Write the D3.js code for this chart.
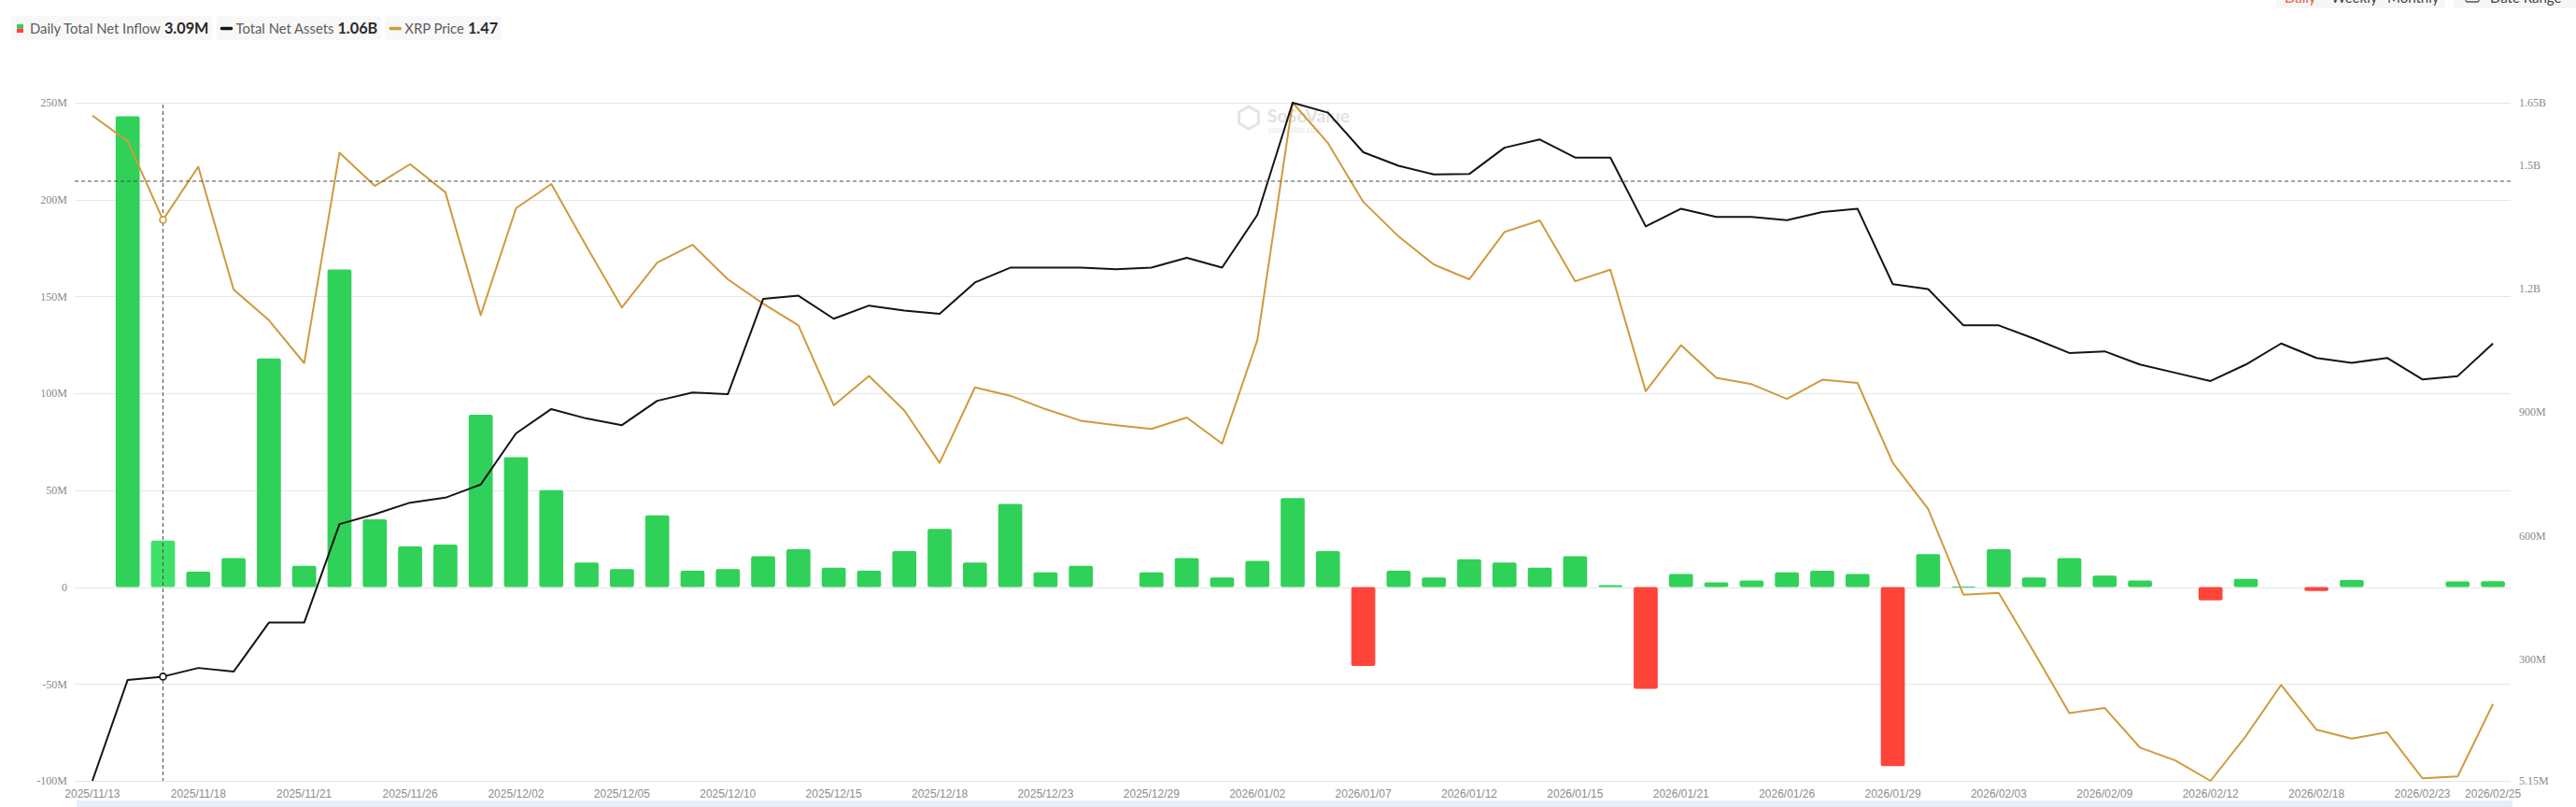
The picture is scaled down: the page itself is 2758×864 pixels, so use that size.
<!DOCTYPE html>
<html>
<head>
<meta charset="utf-8">
<script src="https://cdn.jsdelivr.net/npm/d3@7"></script>
<style>
  html, body { margin: 0; padding: 0; background: #fff; }
  svg { display: block; }
</style>
</head>
<body>
<svg id="chart" width="2758" height="864"></svg>
<script>
// ---------------- DATA ----------------
const dates = ["2025/11/13","2025/11/14","2025/11/17","2025/11/18","2025/11/19","2025/11/20","2025/11/21","2025/11/24","2025/11/25","2025/11/26","2025/11/28",
"2025/12/01","2025/12/02","2025/12/03","2025/12/04","2025/12/05","2025/12/08","2025/12/09","2025/12/10","2025/12/11","2025/12/12","2025/12/15","2025/12/16","2025/12/17","2025/12/18","2025/12/19","2025/12/22","2025/12/23","2025/12/24","2025/12/26","2025/12/29","2025/12/30","2025/12/31",
"2026/01/02","2026/01/05","2026/01/06","2026/01/07","2026/01/08","2026/01/09","2026/01/12","2026/01/13","2026/01/14","2026/01/15","2026/01/16","2026/01/20","2026/01/21","2026/01/22","2026/01/23","2026/01/26","2026/01/27","2026/01/28","2026/01/29","2026/01/30",
"2026/02/02","2026/02/03","2026/02/04","2026/02/05","2026/02/09","2026/02/10","2026/02/11","2026/02/12","2026/02/13","2026/02/17","2026/02/18","2026/02/19","2026/02/20","2026/02/23","2026/02/24","2026/02/25"];

// Daily Total Net Inflow (USD millions)
const netInflow = [null, 243, 24, 8, 15, 118, 11, 164, 35, 21, 22, 89, 67, 50, 12.7, 9.3, 37, 8.5, 9.3, 16, 19.5, 10, 8.5, 18.6, 30, 12.7, 43, 7.6, 11, null,
 7.6, 15, 5, 13.5, 46, 18.6, -40.7, 8.5, 5, 14.4, 12.7, 10, 16, 1, -52.5, 6.8, 2.5, 3.4, 7.6, 8.5, 6.8, -92.4, 17, 0.3, 19.5, 5, 15, 6, 3.4, null,
 -6.8, 4.2, null, -2, 3.7, null, null, 2.9, 3.09];

// Total Net Assets (USD millions)
const netAssets = [5.15, 250, 258, 279, 270, 389, 389, 628, 652, 680, 692, 724, 848, 907, 884, 868, 927, 947, 943, 1174,
 1182, 1126, 1158, 1146, 1138, 1214, 1250, 1250, 1250, 1246, 1250, 1274, 1250, 1378, 1650, 1626, 1530, 1497, 1476, 1477,
 1541, 1561, 1517, 1517, 1350, 1393, 1373, 1373, 1365, 1385, 1393, 1210, 1198, 1110, 1110, 1078, 1043, 1047, 1015, 995,
 975, 1015, 1066, 1031, 1019, 1031, 979, 987, 1066];

// XRP Price (USD)
const xrpPrice = [2.39, 2.35, 2.227, 2.31, 2.118, 2.07, 2.003, 2.332, 2.28, 2.314, 2.27, 2.078, 2.245, 2.283, 2.185, 2.09, 2.16, 2.188, 2.134, 2.096,
 2.062, 1.937, 1.983, 1.929, 1.847, 1.965, 1.952, 1.931, 1.913, 1.906, 1.90, 1.918, 1.877, 2.039, 2.41, 2.347, 2.255, 2.201, 2.157, 2.134,
 2.208, 2.226, 2.131, 2.149, 1.959, 2.031, 1.98, 1.97, 1.947, 1.977, 1.972, 1.847, 1.775, 1.641, 1.644, 1.551, 1.456, 1.464, 1.402, 1.382,
 1.35, 1.42, 1.50, 1.43, 1.416, 1.426, 1.354, 1.357, 1.47];

const xTickLabels = ["2025/11/13","2025/11/18","2025/11/21","2025/11/26","2025/12/02","2025/12/05","2025/12/10","2025/12/15","2025/12/18","2025/12/23","2025/12/29",
"2026/01/02","2026/01/07","2026/01/12","2026/01/15","2026/01/21","2026/01/26","2026/01/29","2026/02/03","2026/02/09","2026/02/12","2026/02/18","2026/02/23","2026/02/25"];

const leftTicks = [-100, -50, 0, 50, 100, 150, 200, 250];
const leftTickLabels = ["-100M", "-50M", "0", "50M", "100M", "150M", "200M", "250M"];
const rightTicks = [5.15, 300, 600, 900, 1200, 1500, 1650];
const rightTickLabels = ["5.15M", "300M", "600M", "900M", "1.2B", "1.5B", "1.65B"];

const legendItems = [
  {name: "Daily Total Net Inflow", value: "3.09M", type: "bar"},
  {name: "Total Net Assets", value: "1.06B", type: "black"},
  {name: "XRP Price", value: "1.47", type: "gold"}
];

const hoverIndex = 2;      // crosshair category
const hoverLevel = 209.5;  // crosshair horizontal level (left axis, M)

// ---------------- STYLE ----------------
const C = {green: "#30d158", greenHover: "#3fe068", red: "#ff453a", black: "#141414", gold: "#d09a3d",
  grid: "#e6e6e6", axisText: "#8a8a8a", xText: "#8c8c8c"};

const svg = d3.select("#chart");
const plot = {left: 80, right: 2688, top: 110, bottom: 836};

const x = d3.scaleBand().domain(dates).range([plot.left, plot.right]).paddingInner(0.32).paddingOuter(0.16);
const bw = x.bandwidth();
const cx = i => x(dates[i]) + bw / 2;
const yL = d3.scaleLinear().domain([d3.min(leftTicks), d3.max(leftTicks)]).range([plot.bottom, plot.top]);
const yR = d3.scaleLinear().domain(d3.extent(netAssets)).range([plot.bottom, plot.top]);
const yP = d3.scaleLinear().domain(d3.extent(xrpPrice)).range([plot.bottom, plot.top]);

// ---------------- GRID ----------------
const grid = svg.append("g").attr("transform", `translate(${plot.left},0)`)
  .call(d3.axisLeft(yL).tickValues(leftTicks).tickSize(-(plot.right - plot.left)).tickFormat(""));
grid.select(".domain").remove();
grid.selectAll("line").attr("stroke", C.grid).attr("stroke-width", 1).attr("shape-rendering", "crispEdges");

// ---------------- AXES ----------------
const axL = svg.append("g").attr("transform", `translate(${plot.left},0)`)
  .call(d3.axisLeft(yL).tickValues(leftTicks).tickSize(0).tickPadding(8)
    .tickFormat((d, i) => leftTickLabels[leftTicks.indexOf(d)]));
axL.select(".domain").remove();
axL.selectAll("text").attr("font-family", "'Liberation Serif', serif").attr("font-size", 12).attr("fill", C.axisText);

const axR = svg.append("g").attr("transform", `translate(${plot.right},0)`)
  .call(d3.axisRight(yR).tickValues(rightTicks).tickSize(0).tickPadding(9)
    .tickFormat(d => rightTickLabels[rightTicks.indexOf(d)]));
axR.select(".domain").remove();
axR.selectAll("text").attr("font-family", "'Liberation Serif', serif").attr("font-size", 12).attr("fill", C.axisText);

const axB = svg.append("g").attr("transform", `translate(0,${plot.bottom})`)
  .call(d3.axisBottom(x).tickValues(xTickLabels).tickSize(0).tickPadding(9));
axB.select(".domain").remove();
axB.selectAll("text").attr("font-family", "'Liberation Sans', Arial, sans-serif").attr("font-size", 12).attr("fill", C.xText);

// ---------------- WATERMARK ----------------
const wm = svg.append("g").attr("fill", "none");
const hex = d3.range(6).map(k => [1337 + 12 * Math.cos(Math.PI / 3 * k + Math.PI / 6), 126 + 12 * Math.sin(Math.PI / 3 * k + Math.PI / 6)]);
wm.append("path").attr("d", "M" + hex.join("L") + "Z").attr("stroke", "#e4e4e4").attr("stroke-width", 3);
wm.append("text").attr("x", 1357).attr("y", 131).text("SoSoValue")
  .attr("font-family", "Lato, sans-serif").attr("font-weight", 700).attr("font-size", 19).attr("fill", "#e2e2e2");
wm.append("text").attr("x", 1358).attr("y", 142).text("sosovalue.com")
  .attr("font-family", "Lato, sans-serif").attr("font-size", 9).attr("fill", "#e6e6e6");

// ---------------- BARS ----------------
svg.append("g").selectAll("rect")
  .data(netInflow.map((v, i) => ({v, i})).filter(d => d.v !== null))
  .join("rect")
  .attr("x", d => x(dates[d.i]))
  .attr("width", bw)
  .attr("y", d => yL(Math.max(0, d.v)))
  .attr("height", d => Math.max(1, Math.abs(yL(d.v) - yL(0))))
  .attr("rx", 2)
  .attr("fill", d => d.v < 0 ? C.red : (d.i === hoverIndex ? C.greenHover : C.green));

// ---------------- LINES ----------------
const idx = d3.range(dates.length);
svg.append("path").datum(idx)
  .attr("d", d3.line().x(cx).y(i => yP(xrpPrice[i])))
  .attr("fill", "none").attr("stroke", C.gold).attr("stroke-width", 2).attr("stroke-linejoin", "round");
svg.append("path").datum(idx)
  .attr("d", d3.line().x(cx).y(i => yR(netAssets[i])))
  .attr("fill", "none").attr("stroke", C.black).attr("stroke-width", 2).attr("stroke-linejoin", "round");

// ---------------- CROSSHAIR ----------------
svg.append("line")
  .attr("x1", cx(hoverIndex)).attr("x2", cx(hoverIndex))
  .attr("y1", yL(d3.max(leftTicks)) + 2).attr("y2", plot.bottom)
  .attr("stroke", "#4a4a4a").attr("stroke-width", 1).attr("stroke-dasharray", "4,3");
svg.append("line")
  .attr("x1", plot.left).attr("x2", plot.right)
  .attr("y1", yL(hoverLevel)).attr("y2", yL(hoverLevel))
  .attr("stroke", "#4a4a4a").attr("stroke-width", 1).attr("stroke-dasharray", "4,3");
svg.append("circle").attr("cx", cx(hoverIndex)).attr("cy", yP(xrpPrice[hoverIndex])).attr("r", 3.5)
  .attr("fill", "#fff").attr("stroke", C.gold).attr("stroke-width", 1.6);
svg.append("circle").attr("cx", cx(hoverIndex)).attr("cy", yR(netAssets[hoverIndex])).attr("r", 3.5)
  .attr("fill", "#fff").attr("stroke", C.black).attr("stroke-width", 1.6);

// ---------------- BOTTOM SLIDER STRIP ----------------
svg.append("rect").attr("x", 82).attr("y", 857).attr("width", 2608).attr("height", 10).attr("fill", "#e7edf9");

// ---------------- LEGEND ----------------
const lg = svg.append("g").attr("font-family", "Lato, 'Noto Sans', sans-serif");
let lx = 12;
legendItems.forEach((it, k) => {
  const g = lg.append("g");
  const bg = g.append("rect").attr("y", 17).attr("height", 26).attr("rx", 3).attr("fill", "#f8f8f8");
  let px = lx + 6;
  if (it.type === "bar") {
    g.append("rect").attr("x", px).attr("y", 26).attr("width", 7).attr("height", 4.5).attr("fill", C.green);
    g.append("rect").attr("x", px).attr("y", 30.5).attr("width", 7).attr("height", 4.5).attr("fill", C.red);
    px += 14;
  } else {
    g.append("line").attr("x1", px).attr("x2", px + 10).attr("y1", 30.5).attr("y2", 30.5)
      .attr("stroke", it.type === "black" ? C.black : C.gold).attr("stroke-width", 3.5).attr("stroke-linecap", "round");
    px += 15;
  }
  const t1 = g.append("text").attr("x", px).attr("y", 35.5).text(it.name)
    .attr("font-size", 14.8).attr("fill", "#5c5c5c");
  px += t1.node().getComputedTextLength() + 4;
  const t2 = g.append("text").attr("x", px).attr("y", 36).text(it.value)
    .attr("font-size", 16.3).attr("font-weight", 700).attr("fill", "#2a2a2a");
  px += t2.node().getComputedTextLength() + 4;
  bg.attr("x", lx).attr("width", px - lx);
  lx = px + 4;
});

// ---------------- TOP-RIGHT CONTROLS (cut off at the top edge, as in the source) ----------------
const tr = svg.append("g").attr("font-family", "Lato, sans-serif").attr("font-size", 15);
tr.append("rect").attr("x", 2437).attr("y", -20).attr("width", 181).attr("height", 29).attr("rx", 4).attr("fill", "#f6f6f6");
tr.append("text").attr("x", 2446).attr("y", 3).text("Daily").attr("fill", "#e5603f");
tr.append("text").attr("x", 2496).attr("y", 3).text("Weekly").attr("fill", "#444");
tr.append("text").attr("x", 2556).attr("y", 3).text("Monthly").attr("fill", "#444");
tr.append("rect").attr("x", 2627).attr("y", -20).attr("width", 131).attr("height", 29).attr("rx", 4).attr("fill", "#f6f6f6");
tr.append("rect").attr("x", 2640).attr("y", -8).attr("width", 14).attr("height", 10).attr("rx", 1.5).attr("fill", "none").attr("stroke", "#555").attr("stroke-width", 1.3);
tr.append("text").attr("x", 2666).attr("y", 3).text("Date Range").attr("fill", "#444");
</script>
</body>
</html>
